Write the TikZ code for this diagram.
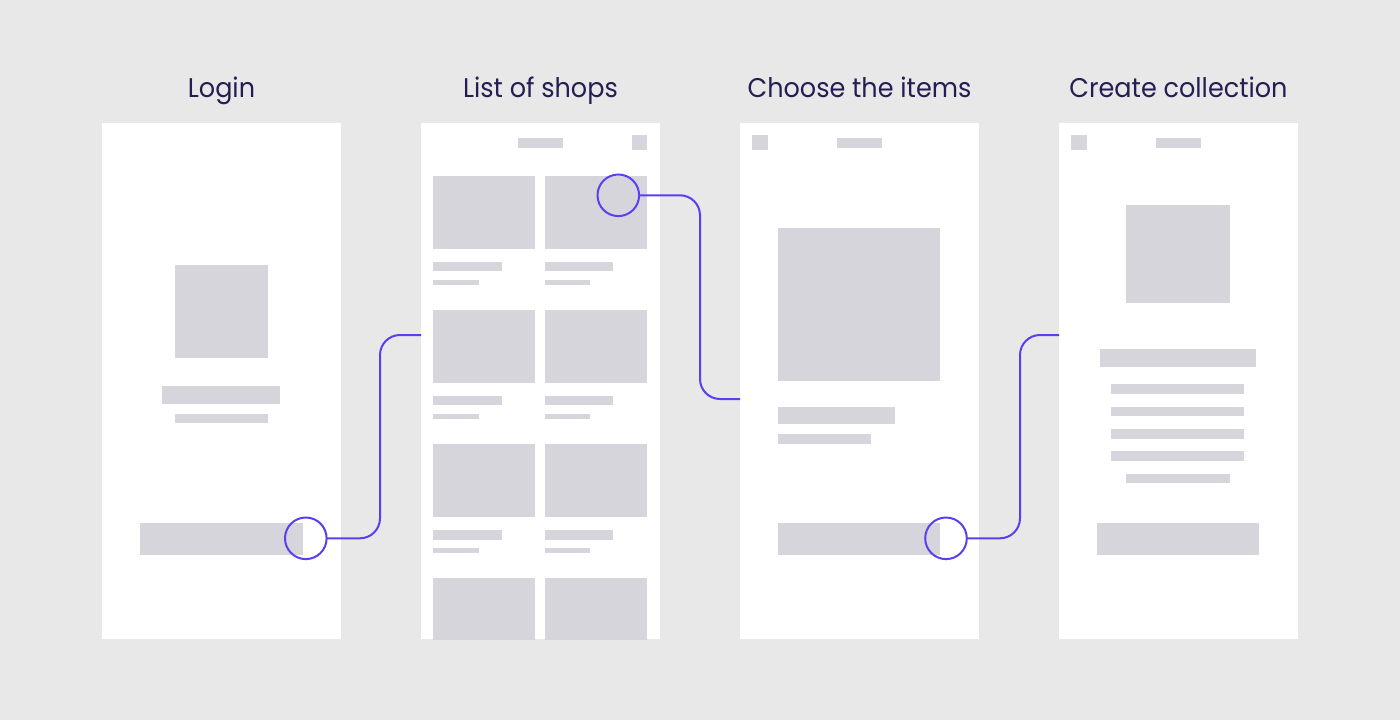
\documentclass[tikz,border=0pt]{standalone}
\usepackage{fontspec}
\setmainfont{Poppins}[FakeStretch=0.945]
\usetikzlibrary{calc}
\definecolor{bg}{HTML}{E8E8E8}
\definecolor{phc}{HTML}{D6D5DB}
\definecolor{linec}{HTML}{5A3FF2}
\definecolor{titlec}{HTML}{241E52}
\tikzset{
  panel/.style={fill=white, draw=none, minimum width=239pt, minimum height=516.6pt, inner sep=0pt, outer sep=0pt},
  ph/.style={fill=phc},
  title/.style={text=titlec, font=\fontsize{27}{30}\selectfont, anchor=base, inner sep=0pt},
  ring/.style={circle, draw=linec, line width=2pt, minimum size=41.6pt, inner sep=0pt, outer sep=0pt},
  conn/.style={draw=linec, line width=2pt, rounded corners=20pt},
}
\begin{document}
\begin{tikzpicture}[x=1pt, y=-1pt]
\useasboundingbox (0,0) rectangle (1400,720);
\fill[bg] (0,0) rectangle (1400,720);

% titles
\node[title] (t1) at (221.5,97.5) {Login};
\node[title] (t2) at (540.5,97.5) {List of shops};
\node[title] (t3) at (859.5,97.5) {Choose the items};
\node[title] (t4) at (1178.5,97.5) {Create collection};

% panels
\node[panel] (p1) at (221.5,381) {};
\node[panel] (p2) at (540.5,381) {};
\node[panel] (p3) at (859.5,381) {};
\node[panel] (p4) at (1178.5,381) {};

% Login panel
\fill[ph] (174.7,265.3) rectangle (267.7,358.3);
\fill[ph] (162.3,386.3) rectangle (280,403.7);
\fill[ph] (174.7,414) rectangle (267.7,423.3);
\fill[ph] (140,523.3) rectangle (302.7,555);

% List of shops panel
\fill[ph] (517.7,138) rectangle (563,148);
\fill[ph] (631.7,135) rectangle (647,150);
\foreach \t in {175.5,309.8,444.1}{
  \fill[ph] (433.3,\t) rectangle (535.3,\t+73.3);
  \fill[ph] (545,\t) rectangle (647,\t+73.3);
  \fill[ph] (433.3,\t+86) rectangle (501.7,\t+95.5);
  \fill[ph] (433.3,\t+104) rectangle (479,\t+109);
  \fill[ph] (545,\t+86) rectangle (613.3,\t+95.5);
  \fill[ph] (545,\t+104) rectangle (590.3,\t+109);
}
\fill[ph] (433.3,578.4) rectangle (535.3,639.7);
\fill[ph] (545,578.4) rectangle (647,639.7);

% Choose the items panel
\fill[ph] (752.3,135) rectangle (767.7,150);
\fill[ph] (836.7,138) rectangle (882,148);
\fill[ph] (778,228) rectangle (940.3,381);
\fill[ph] (778,406.7) rectangle (895.3,424);
\fill[ph] (778,434) rectangle (871,443.7);
\fill[ph] (778,523.3) rectangle (940.3,555);

% Create collection panel
\fill[ph] (1071.3,135) rectangle (1086.7,150);
\fill[ph] (1155.7,138) rectangle (1201,148);
\fill[ph] (1126,205.3) rectangle (1230,303.3);
\fill[ph] (1100,349.3) rectangle (1256,366.7);
\foreach \y in {384.3,406.7,429,451.3}{
  \fill[ph] (1111.3,\y) rectangle (1244,\y+9.7);
}
\fill[ph] (1126,473.7) rectangle (1230,483.3);
\fill[ph] (1097,523) rectangle (1259.3,555.3);

% rings
\node[ring] (c1) at (305.8,538.3) {};
\node[ring] (c2) at (618.3,195.3) {};
\node[ring] (c3) at (946,538.3) {};

% connectors
\draw[conn] (c1.east) -- (380,538.3) -- (380,335) -- (p2.west |- 0,335);
\draw[conn] (c2.east) -- (700,195.3) -- (700,399) -- (p3.west |- 0,399);
\draw[conn] (c3.east) -- (1020,538.3) -- (1020,335) -- (p4.west |- 0,335);
\end{tikzpicture}
\end{document}
